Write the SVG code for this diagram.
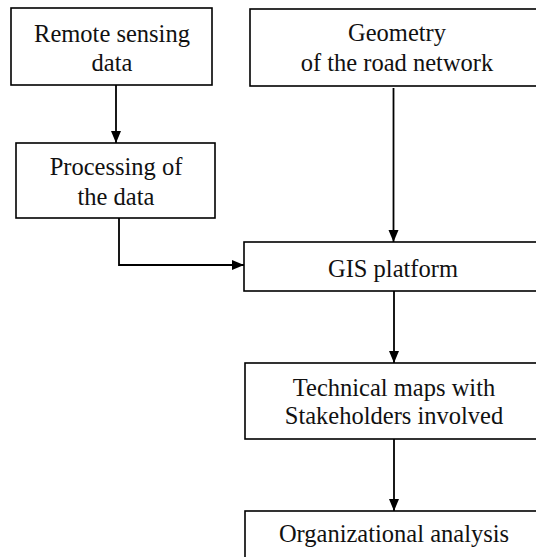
<svg xmlns="http://www.w3.org/2000/svg" width="536" height="557" viewBox="0 0 536 557">
  <style>
    .box { fill: #ffffff; stroke: #000000; stroke-width: 1.6; }
    .lbl { font-family: "Liberation Serif", "Times New Roman", serif; font-size: 24.5px; fill: #111111; text-anchor: middle; }
    .conn { fill: none; stroke: #000000; stroke-width: 1.8; }
  </style>
  <defs>
    <marker id="arrow" markerUnits="userSpaceOnUse" markerWidth="12" markerHeight="12" viewBox="0 0 12 10" refX="12" refY="5" orient="auto">
      <path d="M0,0 L12,5 L0,10 Z" fill="#000000"/>
    </marker>
  </defs>
  <rect width="536" height="557" fill="#ffffff"/>

  <g id="remote-sensing">
    <rect class="box" x="11" y="8" width="201" height="77"/>
    <text class="lbl" x="112" y="42">Remote sensing</text>
    <text class="lbl" x="112" y="71">data</text>
  </g>

  <g id="geometry">
    <rect class="box" x="250" y="9" width="300" height="77"/>
    <text class="lbl" x="397" y="41">Geometry</text>
    <text class="lbl" x="397" y="71">of the road network</text>
  </g>

  <g id="processing">
    <rect class="box" x="16" y="143" width="199" height="75"/>
    <text class="lbl" x="116" y="175">Processing of</text>
    <text class="lbl" x="116" y="205">the data</text>
  </g>

  <g id="gis">
    <rect class="box" x="244" y="242" width="306" height="49"/>
    <text class="lbl" x="393" y="277">GIS platform</text>
  </g>

  <g id="technical-maps">
    <rect class="box" x="245" y="363" width="305" height="76"/>
    <text class="lbl" x="394" y="396">Technical maps with</text>
    <text class="lbl" x="394" y="424">Stakeholders involved</text>
  </g>

  <g id="organizational">
    <rect class="box" x="245" y="511" width="305" height="50"/>
    <text class="lbl" x="394" y="542">Organizational analysis</text>
  </g>

  <g id="connectors">
    <path class="conn" d="M116,85 L116,143" marker-end="url(#arrow)"/>
    <path class="conn" d="M393.5,88 L393.5,242" marker-end="url(#arrow)"/>
    <path class="conn" d="M119,218 L119,265 L244,265" marker-end="url(#arrow)"/>
    <path class="conn" d="M394,291 L394,363" marker-end="url(#arrow)"/>
    <path class="conn" d="M394,439 L394,511" marker-end="url(#arrow)"/>
  </g>
</svg>
